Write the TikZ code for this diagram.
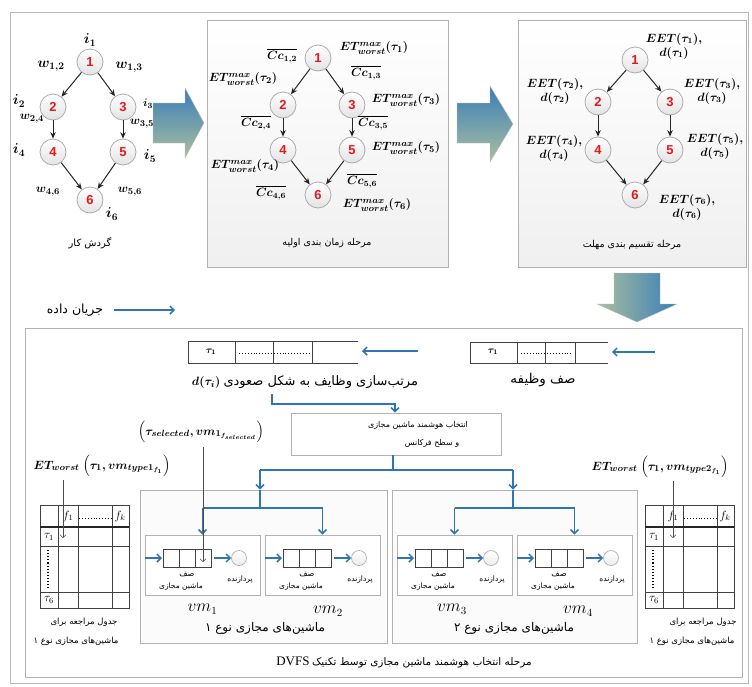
\documentclass[tikz,border=0pt]{standalone}
\usepackage{fontspec}
\usepackage{amsmath,bm}
\usetikzlibrary{arrows.meta}
\setmainfont{Liberation Serif}
\newfontfamily\fa[Script=Arabic]{DejaVu Sans}
\newfontfamily\numf{Liberation Sans}
\TeXXeTstate=1
\definecolor{flow}{HTML}{2E75B6}
\definecolor{numred}{HTML}{E31A1C}
\definecolor{arrblue}{HTML}{3A7DB8}
\definecolor{arrgreen}{HTML}{A9C09F}
\newcommand{\fsz}[1]{\fontsize{#1}{#1}\selectfont}
\begin{document}
\begin{tikzpicture}[x=1pt,y=-1pt,
  gnode/.style={circle,draw=gray!65,line width=0.8pt,inner sep=0pt,minimum size=26pt,
     top color=white,bottom color=gray!22,font=\numf\bfseries\fsz{13},text=numred},
  garrow/.style={-{Stealth[length=6.5pt,width=5.5pt]},line width=1pt,black!85},
  lab/.style={inner sep=0pt,font=\fsz{14}\boldmath},
  mlab/.style={inner sep=0pt,font=\fontsize{12.5}{14}\selectfont\boldmath},
  clab/.style={inner sep=0pt,font=\fontsize{11.5}{14}\selectfont\boldmath},
  dlab/.style={inner sep=0pt,align=center,font=\fontsize{12}{14}\selectfont\boldmath},
  stagebox/.style={draw=gray!60,line width=0.8pt,top color=white,bottom color=gray!12},
  bigarrow/.style={draw=gray!50,line width=0.4pt},
  flowline/.style={flow,line width=1.5pt},
  flowarrow/.style={flow,line width=1.5pt,-{Straight Barb[length=4pt,width=8pt]}},
  tline/.style={black!75,line width=0.6pt},
  thinarrow/.style={gray!60!black,line width=0.5pt,-{Straight Barb[length=3pt,width=6pt]}},
  boxnode/.style={draw=gray!60,line width=0.8pt,fill=white,inner sep=0pt},
  fat/.style={inner sep=0pt},
]
\useasboundingbox (0,0) rectangle (752,686);
\draw[gray!55,line width=1pt] (10,12) rectangle (748,683);

% stage boxes
\path[stagebox] (207,20) rectangle (448,267);
\path[stagebox] (518,20) rectangle (746,267);

% big arrows
\path[bigarrow,top color=arrblue,bottom color=arrgreen] (153,103) -- (185,103) -- (185,88) -- (204,123) -- (185,158) -- (185,143) -- (153,143) -- cycle;
\path[bigarrow,top color=arrblue,bottom color=arrgreen] (457,103) -- (490,103) -- (490,86) -- (513,124) -- (490,162) -- (490,143) -- (457,143) -- cycle;
\path[bigarrow,left color=arrgreen,right color=arrblue] (614,273) -- (660,273) -- (660,304) -- (677,304) -- (637,322) -- (597,304) -- (614,304) -- cycle;

% workflow graph
\node[gnode] (a1) at (90,62) {1};
\node[gnode] (a2) at (53,107) {2};
\node[gnode] (a3) at (123,107) {3};
\node[gnode] (a4) at (53,152) {4};
\node[gnode] (a5) at (123,152) {5};
\node[gnode] (a6) at (90,200) {6};
\draw[garrow] (a1) -- (a2);
\draw[garrow] (a1) -- (a3);
\draw[garrow] (a2) -- (a4);
\draw[garrow] (a3) -- (a5);
\draw[garrow] (a4) -- (a6);
\draw[garrow] (a5) -- (a6);
\node[lab] (li1) at (90,40) {$i_1$};
\node[lab] (lw12) at (51,66) {$w_{1,2}$};
\node[lab] (lw13) at (129,67) {$w_{1,3}$};
\node[lab] (li2) at (19,101) {$i_2$};
\node[lab,font=\fsz{11}\boldmath] (li3) at (148,104) {$i_3$};
\node[lab,font=\fsz{12.5}\boldmath] (lw24) at (32,119) {$w_{2,4}$};
\node[lab,font=\fsz{12.5}\boldmath] (lw35) at (142,124) {$w_{3,5}$};
\node[lab] (li4) at (19,150) {$i_4$};
\node[lab] (li5) at (150,156) {$i_5$};
\node[lab,font=\fsz{12.5}\boldmath] (lw46) at (48,192) {$w_{4,6}$};
\node[lab,font=\fsz{12.5}\boldmath] (lw56) at (130,192) {$w_{5,6}$};
\node[lab] (li6) at (112,214) {$i_6$};
\node[fat,font=\fa\fsz{10}] (t1) at (90,243) {\beginR گردش کار\endR};

% initial scheduling graph
\node[gnode] (b1) at (318,58) {1};
\node[gnode] (b2) at (283,105) {2};
\node[gnode] (b3) at (352,105) {3};
\node[gnode] (b4) at (283,150) {4};
\node[gnode] (b5) at (352,150) {5};
\node[gnode] (b6) at (318,195) {6};
\draw[garrow] (b1) -- (b2);
\draw[garrow] (b1) -- (b3);
\draw[garrow] (b2) -- (b4);
\draw[garrow] (b3) -- (b5);
\draw[garrow] (b4) -- (b6);
\draw[garrow] (b5) -- (b6);
\node[clab] (lc12) at (282,56) {$\overline{Cc_{1,2}}$};
\node[mlab] (le1) at (374,48) {$ET^{max}_{worst}(\tau_1)$};
\node[clab] (lc13) at (366,73) {$\overline{Cc_{1,3}}$};
\node[mlab] (le2) at (243,79) {$ET^{max}_{worst}(\tau_2)$};
\node[mlab] (le3) at (406,100) {$ET^{max}_{worst}(\tau_3)$};
\node[clab] (lc24) at (256,123) {$\overline{Cc_{2,4}}$};
\node[clab] (lc35) at (373,123) {$\overline{Cc_{3,5}}$};
\node[mlab] (le5) at (406,148) {$ET^{max}_{worst}(\tau_5)$};
\node[mlab] (le4) at (245,166) {$ET^{max}_{worst}(\tau_4)$};
\node[clab] (lc46) at (271,193) {$\overline{Cc_{4,6}}$};
\node[clab] (lc56) at (362,181) {$\overline{Cc_{5,6}}$};
\node[mlab] (le6) at (377,205) {$ET^{max}_{worst}(\tau_6)$};
\node[fat,font=\fa\fsz{9.5}] (t2) at (327,243) {\beginR مرحله زمان بندی اولیه\endR};

% deadline distribution graph
\node[gnode] (c1) at (635,60) {1};
\node[gnode] (c2) at (598,102) {2};
\node[gnode] (c3) at (670,102) {3};
\node[gnode] (c4) at (598,150) {4};
\node[gnode] (c5) at (670,150) {5};
\node[gnode] (c6) at (635,195) {6};
\draw[garrow] (c1) -- (c2);
\draw[garrow] (c1) -- (c3);
\draw[garrow] (c2) -- (c4);
\draw[garrow] (c3) -- (c5);
\draw[garrow] (c4) -- (c6);
\draw[garrow] (c5) -- (c6);
\node[dlab] (d1) at (674,46) {$EET(\tau_1),$\\$d(\tau_1)$};
\node[dlab] (d2) at (555,91) {$EET(\tau_2),$\\$d(\tau_2)$};
\node[dlab] (d3) at (712,91) {$EET(\tau_3),$\\$d(\tau_3)$};
\node[dlab] (d4) at (554,148) {$EET(\tau_4),$\\$d(\tau_4)$};
\node[dlab] (d5) at (715,146) {$EET(\tau_5),$\\$d(\tau_5)$};
\node[dlab] (d6) at (687,207) {$EET(\tau_6),$\\$d(\tau_6)$};
\node[fat,font=\fa\fsz{9.5}] (t3) at (632,245) {\beginR مرحله تقسیم بندی مهلت\endR};

% legend
\node[fat,font=\fa\fsz{12.5}] (leg) at (75,310) {\beginR جریان داده\endR};
\coordinate (lega) at (114,310);
\coordinate (legb) at (175,310);
\draw[flowarrow] (lega) -- (legb);

% big bottom box
\path[draw=gray!60,line width=0.8pt,fill=white] (25,328) rectangle (742,677);

% task queue
\draw[tline] (608,342) -- (470,342) -- (470,363) -- (608,363);
\draw[tline] (517,342) -- (517,363) (545,342) -- (545,363) (575,342) -- (575,363);
\node[fat,font=\fsz{10}\boldmath] (q1t) at (493,352) {$\tau_1$};
\draw[dotted,line width=0.9pt] (521,353) -- (572,353);
\coordinate (q1in) at (655,352);
\coordinate (q1end) at (612,352);
\draw[flowarrow] (q1in) -- (q1end);
\node[fat,font=\fa\fsz{13.5}] (q1l) at (543,380) {\beginR صف وظیفه\endR};

% sorted queue
\draw[tline] (358,341) -- (188,341) -- (188,363) -- (358,363);
\draw[tline] (235,341) -- (235,363) (273,341) -- (273,363) (312,341) -- (312,363);
\node[fat,font=\fsz{10}\boldmath] (q2t) at (211,352) {$\tau_1$};
\draw[dotted,line width=0.9pt] (239,353) -- (309,353);
\coordinate (q2in) at (418,351);
\coordinate (q2end) at (362,351);
\draw[flowarrow] (q2in) -- (q2end);
\node[fat,font=\fsz{13}\boldmath] (q2l) at (305,382) {$d(\tau_i)$\ {\fa\beginR مرتب^^^^200cسازی وظایف به شکل صعودی\endR}};

% selection box
\node[boxnode,minimum width=210pt,minimum height=42pt] (sel) at (396,434) {};
\node[fat,font=\fa\fsz{8}] (sel1) at (418,425) {\beginR انتخاب هوشمند ماشین مجازی\endR};
\node[fat,font=\fa\fsz{8}] (sel2) at (432,443) {\beginR و سطح فرکانس\endR};
\coordinate (s1) at (272,394);
\coordinate (s2) at (272,404);
\coordinate (s3) at (395,404);
\draw[flowarrow] (s1) -- (s2) -- (s3) -- (s3 |- sel.north);

% groups and VMs
\node[boxnode,minimum width=247pt,minimum height=153pt,fill=gray!3] (g1) at (263.5,566.5) {};
\node[boxnode,minimum width=245pt,minimum height=153pt,fill=gray!3] (g2) at (514.5,566.5) {};
\node[boxnode,minimum width=115pt,minimum height=60pt] (vm1) at (202.5,565) {};
\node[boxnode,minimum width=115pt,minimum height=60pt] (vm2) at (322.5,565) {};
\node[boxnode,minimum width=115pt,minimum height=60pt] (vm3) at (454.5,565) {};
\node[boxnode,minimum width=115pt,minimum height=60pt] (vm4) at (574.5,565) {};

\coordinate (br) at (393,470);
\coordinate (brL) at (260,470);
\coordinate (brR) at (513,470);
\draw[flowline] (sel.south -| br) -- (br);
\draw[flowline] (brL) -- (brR);
\draw[flowarrow] (brL) -- (brL |- g1.north);
\draw[flowarrow] (brR) -- (brR |- g2.north);
\coordinate (g1a) at (260,508);
\coordinate (g2a) at (513,508);
\draw[flowline] (brL |- g1.north) -- (g1a);
\draw[flowline] (brR |- g2.north) -- (g2a);
\draw[flowline] (vm1.north |- g1a) -- (vm2.north |- g1a);
\draw[flowline] (vm3.north |- g2a) -- (vm4.north |- g2a);
\draw[flowarrow] (vm1.north |- g1a) -- (vm1.north);
\draw[flowarrow] (vm2.north |- g1a) -- (vm2.north);
\draw[flowarrow] (vm3.north |- g2a) -- (vm3.north);
\draw[flowarrow] (vm4.north |- g2a) -- (vm4.north);

\foreach \i/\L in {1/145,2/265,3/397,4/517}{
  \coordinate (qa\i) at (\L,558);
  \coordinate (qb\i) at (\L+17,558);
  \draw[flowarrow] (qa\i) -- (qb\i);
  \draw[tline] (\L+18,549) rectangle (\L+66,567);
  \draw[tline] (\L+34,549) -- (\L+34,567) (\L+50,549) -- (\L+50,567);
  \node[circle,draw=gray!60,line width=0.7pt,minimum size=15pt,inner sep=0pt,top color=white,bottom color=gray!15] (pc\i) at (\L+94,558) {};
  \coordinate (qc\i) at (\L+69,558);
  \draw[flowarrow] (qc\i) -- (pc\i.west);
  \node[fat,font=\fa\fsz{8}] (ts\i) at (\L+42,575) {\beginR صف\endR};
  \node[fat,font=\fa\fsz{7.5}] (tm\i) at (\L+36,587) {\beginR ماشین مجازی\endR};
  \node[fat,font=\fa\fsz{7.5}] (tp\i) at (\L+95,580) {\beginR پردازنده\endR};
}
\node[fat,font=\fsz{16}] (n1) at (202.5,609) {$vm_1$};
\node[fat,font=\fsz{16}] (n2) at (328,611) {$vm_2$};
\node[fat,font=\fsz{16}] (n3) at (452,609) {$vm_3$};
\node[fat,font=\fsz{16}] (n4) at (578,611) {$vm_4$};
\node[fat,font=\fa\fsz{12}] (gl1) at (265,628) {\beginR ماشین^^^^200cهای مجازی نوع ۱\endR};
\node[fat,font=\fa\fsz{12}] (gl2) at (514,628) {\beginR ماشین^^^^200cهای مجازی نوع ۲\endR};
\node[fat] (dv) at (404,662) {{\fsz{13}DVFS} {\fa\fsz{10.5}\beginR مرحله انتخاب هوشمند ماشین مجازی توسط تکنیک\endR}};

% selected label and pointer
\node[fat,font=\fsz{13}\boldmath] (sl) at (201,432) {$\Big(\tau_{selected}, vm_{1_{f_{selected}}}\Big)$};
\coordinate (sa1) at (203,447);
\coordinate (sa2) at (203,562);
\draw[thinarrow] (sa1) -- (sa2);

% lookup tables
\foreach \j/\L/\ty in {1/40/1,2/645/2}{
  \draw[tline] (\L,505) rectangle (\L+89,608);
  \draw[tline] (\L+18,505) -- (\L+18,608) (\L+38,505) -- (\L+38,608) (\L+72,505) -- (\L+72,608);
  \draw[black!85,line width=1.1pt] (\L,527) -- (\L+89,527);
  \draw[tline] (\L,546) -- (\L+89,546) (\L,592) -- (\L+89,592);
  \node[fat,font=\fsz{12}] (tf\j) at (\L+28,516) {$f_1$};
  \node[fat,font=\fsz{12}] (tk\j) at (\L+80,516) {$f_k$};
  \draw[dotted,line width=0.9pt] (\L+39,518) -- (\L+72,518);
  \node[fat,font=\fsz{12}] (tt\j) at (\L+9,537) {$\tau_1$};
  \draw[dotted,line width=1.1pt] (\L+8,550) -- (\L+8,589);
  \node[fat,font=\fsz{12}] (ts\j) at (\L+9,600) {$\tau_6$};
}
\node[fat,font=\fa\fsz{8.5}] (tb1a) at (84,622) {\beginR جدول مراجعه برای\endR};
\node[fat,font=\fa\fsz{8.5}] (tb1b) at (76,641) {\beginR ماشین^^^^200cهای مجازی نوع ۱\endR};
\node[fat,font=\fa\fsz{8.5}] (tb2a) at (703,622) {\beginR جدول مراجعه برای\endR};
\node[fat,font=\fa\fsz{8.5}] (tb2b) at (692,641) {\beginR ماشین^^^^200cهای مجازی نوع ۱\endR};

\node[fat,font=\fsz{13}\boldmath] (et1) at (102,466) {$ET_{worst}\ \Big(\tau_1, vm_{type1_{f_1}}\Big)$};
\node[fat,font=\fsz{13}\boldmath] (et2) at (660,467) {$ET_{worst}\ \Big(\tau_1, vm_{type2_{f_1}}\Big)$};
\coordinate (la1) at (63,480);
\coordinate (la2) at (63,538);
\draw[thinarrow] (la1) -- (la2);
\coordinate (ra1) at (673,481);
\coordinate (ra2) at (673,538);
\draw[thinarrow] (ra1) -- (ra2);
\end{tikzpicture}
\end{document}
